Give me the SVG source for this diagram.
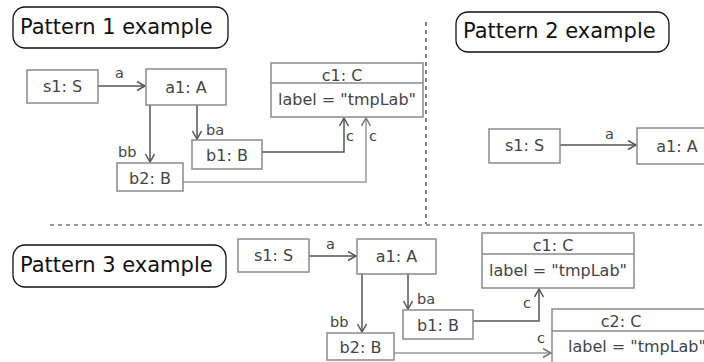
<svg xmlns="http://www.w3.org/2000/svg" width="704" height="362" viewBox="0 0 704 362">
<style>
text{font-family:"DejaVu Sans",sans-serif}
.title rect{fill:#fff;stroke:#111;stroke-width:1.3}
.title text{font-size:21px;fill:#111}
.node rect{fill:#fff;stroke:#8a8a8a;stroke-width:1.5}
.node line{stroke:#8a8a8a;stroke-width:1.5}
.node text{font-size:16px;fill:#444;text-anchor:middle}
.edge{fill:none;stroke:#555;stroke-width:1.5;marker-end:url(#arr)}
.edge.light{stroke:#999;marker-end:url(#arrl)}
.elabel{font-size:14.5px;fill:#444}
.sep{stroke:#333;stroke-width:1.2;stroke-dasharray:4 4;fill:none}
</style>
<defs>
<marker id="arr" markerUnits="userSpaceOnUse" markerWidth="12" markerHeight="12" refX="9" refY="5" orient="auto">
<path d="M1,0.5 L9,5 L1,9.5" fill="none" stroke="#555" stroke-width="1.5"/>
</marker>
<marker id="arrl" markerUnits="userSpaceOnUse" markerWidth="12" markerHeight="12" refX="9" refY="5" orient="auto">
<path d="M1,0.5 L9,5 L1,9.5" fill="none" stroke="#777" stroke-width="1.5"/>
</marker>
</defs>

<g id="separators">
<line class="sep" x1="426" y1="22" x2="426" y2="224"/>
<line class="sep" x1="50" y1="225" x2="704" y2="225"/>
</g>

<g id="title1" class="title"><rect x="13" y="7" width="215" height="41" rx="12"/><text x="20" y="33.5">Pattern 1 example</text></g>
<g id="title2" class="title"><rect x="456" y="12" width="213" height="40" rx="12"/><text x="463" y="38">Pattern 2 example</text></g>
<g id="title3" class="title"><rect x="13" y="245" width="213" height="42" rx="12"/><text x="20" y="272">Pattern 3 example</text></g>

<g id="connectors">
<line class="edge" x1="98" y1="86" x2="145" y2="86"/>
<line class="edge" x1="150" y1="105" x2="150" y2="162"/>
<line class="edge" x1="197" y1="105" x2="197" y2="139"/>
<polyline class="edge" points="262,152 344,152 344,118"/>
<polyline class="edge light" points="183,182 366,182 366,118"/>
<line class="edge" x1="560" y1="145" x2="636" y2="145"/>
<line class="edge" x1="309" y1="256" x2="356" y2="256"/>
<line class="edge" x1="362" y1="274" x2="362" y2="332"/>
<line class="edge" x1="408" y1="274" x2="408" y2="309"/>
<polyline class="edge" points="473,321 539,321 539,289"/>
<line class="edge light" x1="394" y1="353" x2="551" y2="353"/>
<text class="elabel" x="115" y="78">a</text>
<text class="elabel" x="206" y="135">ba</text>
<text class="elabel" x="118" y="157">bb</text>
<text class="elabel" x="346" y="141">c</text>
<text class="elabel" x="369" y="141">c</text>
<text class="elabel" x="605" y="139">a</text>
<text class="elabel" x="326" y="249">a</text>
<text class="elabel" x="417" y="304">ba</text>
<text class="elabel" x="330" y="327">bb</text>
<text class="elabel" x="523" y="308">c</text>
<text class="elabel" x="537" y="343">c</text>
</g>

<g id="p1_s1" class="node"><rect x="27" y="70" width="71" height="33"/><text x="62.5" y="92">s1: S</text></g>
<g id="p1_a1" class="node"><rect x="146" y="69" width="80" height="36"/><text x="186" y="93">a1: A</text></g>
<g id="p1_b1" class="node"><rect x="192" y="140" width="70" height="29"/><text x="227" y="161">b1: B</text></g>
<g id="p1_b2" class="node"><rect x="117" y="163" width="66" height="28"/><text x="150" y="184">b2: B</text></g>
<g id="p1_c1" class="node"><rect x="271" y="63" width="152" height="54"/><line x1="271" y1="83" x2="423" y2="83"/><text x="342" y="81">c1: C</text><text x="347" y="105">label = "tmpLab"</text></g>

<g id="p2_s1" class="node"><rect x="489" y="129" width="71" height="34"/><text x="524.5" y="151">s1: S</text></g>
<g id="p2_a1" class="node"><rect x="637" y="128" width="80" height="36"/><text x="677" y="152">a1: A</text></g>

<g id="p3_s1" class="node"><rect x="238" y="239" width="71" height="33"/><text x="273.5" y="261">s1: S</text></g>
<g id="p3_a1" class="node"><rect x="357" y="239" width="79" height="35"/><text x="396.5" y="262">a1: A</text></g>
<g id="p3_b1" class="node"><rect x="403" y="310" width="70" height="29"/><text x="438" y="331">b1: B</text></g>
<g id="p3_b2" class="node"><rect x="327" y="333" width="67" height="27"/><text x="360.5" y="353">b2: B</text></g>
<g id="p3_c1" class="node"><rect x="482" y="233" width="152" height="55"/><line x1="482" y1="254" x2="634" y2="254"/><text x="553" y="251">c1: C</text><text x="558" y="276">label = "tmpLab"</text></g>
<g id="p3_c2" class="node"><rect x="552" y="309" width="172" height="60"/><line x1="552" y1="331" x2="724" y2="331"/><text x="621" y="327">c2: C</text><text x="568" y="352" style="text-anchor:start">label = "tmpLab"</text></g>
</svg>
